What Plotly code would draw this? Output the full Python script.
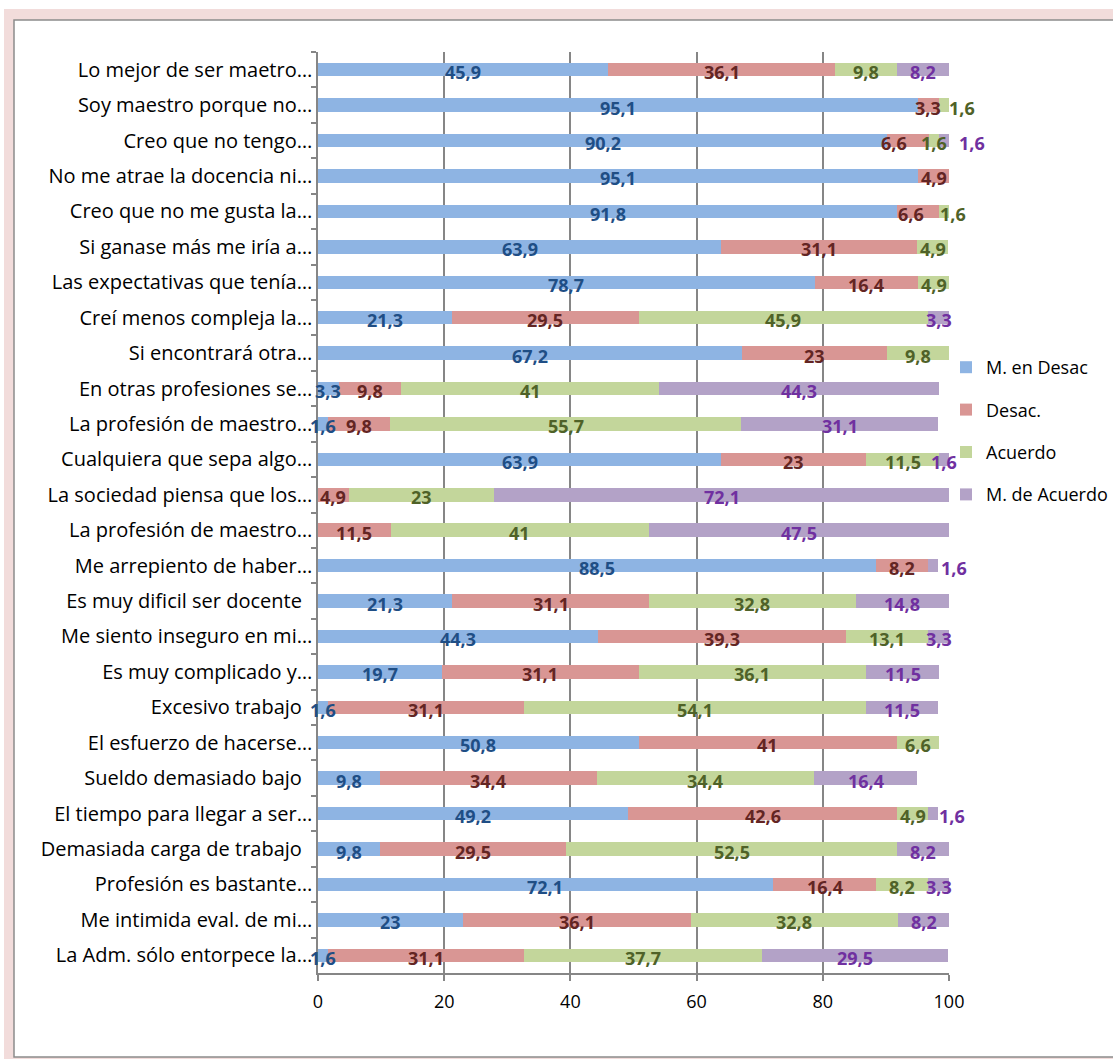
import plotly.graph_objects as go

categories = [
    "Lo mejor de ser maetro…",
    "Soy maestro porque no…",
    "Creo que no tengo…",
    "No me atrae la docencia ni…",
    "Creo que no me gusta la…",
    "Si ganase más me iría a…",
    "Las expectativas que tenía…",
    "Creí menos compleja la…",
    "Si encontrará otra…",
    "En otras profesiones se…",
    "La profesión de maestro…",
    "Cualquiera que sepa algo…",
    "La sociedad piensa que los…",
    "La profesión de maestro…\u200b",
    "Me arrepiento de haber…",
    "Es muy dificil ser docente\u00a0\u00a0",
    "Me siento inseguro en mi…",
    "Es muy complicado y…",
    "Excesivo trabajo\u00a0\u00a0",
    "El esfuerzo de hacerse…",
    "Sueldo demasiado bajo\u00a0\u00a0",
    "El tiempo para llegar a ser…",
    "Demasiada carga de trabajo\u00a0\u00a0",
    "Profesión es bastante…",
    "Me intimida eval. de mi…",
    "La Adm. sólo entorpece la…",
]

m_desac = [45.9, 95.1, 90.2, 95.1, 91.8, 63.9, 78.7, 21.3, 67.2, 3.3, 1.6, 63.9, 0, 0, 88.5,
           21.3, 44.3, 19.7, 1.6, 50.8, 9.8, 49.2, 9.8, 72.1, 23, 1.6]
desac = [36.1, 3.3, 6.6, 4.9, 6.6, 31.1, 16.4, 29.5, 23, 9.8, 9.8, 23, 4.9, 11.5, 8.2,
         31.1, 39.3, 31.1, 31.1, 41, 34.4, 42.6, 29.5, 16.4, 36.1, 31.1]
acuerdo = [9.8, 1.6, 1.6, 0, 1.6, 4.9, 4.9, 45.9, 9.8, 41, 55.7, 11.5, 23, 41, 0,
           32.8, 13.1, 36.1, 54.1, 6.6, 34.4, 4.9, 52.5, 8.2, 32.8, 37.7]
m_acuerdo = [8.2, 0, 1.6, 0, 0, 0, 0, 3.3, 0, 44.3, 31.1, 1.6, 72.1, 47.5, 1.6,
             14.8, 3.3, 11.5, 11.5, 0, 16.4, 1.6, 8.2, 3.3, 8.2, 29.5]

series_names = ["M. en Desac", "Desac.", "Acuerdo", "M. de Acuerdo"]
series_values = [m_desac, desac, acuerdo, m_acuerdo]
bar_colors = ["#8EB4E3", "#D99694", "#C3D69B", "#B3A2C7"]
label_colors = ["#1F4E85", "#632523", "#4F6228", "#7030A0"]

x_ticks = [0, 20, 40, 60, 80, 100]

# label nudges (pixels) for crowded labels, like the reference: (row, series) -> dx
label_nudges = {(1, 2): 18, (2, 1): -14, (2, 3): 28, (4, 1): -7, (4, 2): 9,
                (14, 3): 21, (21, 3): 19}

W, H = 1113, 1059
L, R, T, B = 318, 949, 52, 973

FONT = "Open Sans"


def px_x(p):
    return (p - L) / (R - L)


def px_y(p):
    return (B - p) / (B - T)


def fmt(v):
    return f"{v:g}".replace(".", ",")


fig = go.Figure()
for name, vals, bc in zip(series_names, series_values, bar_colors):
    fig.add_trace(go.Bar(
        y=categories,
        x=vals,
        name=name,
        orientation="h",
        marker=dict(color=bc, line=dict(width=0)),
        legendgroup=name,
        hoverinfo="x+y+name",
    ))

# data labels drawn above all bars, centred on each segment
annotations = []
cum = [0.0] * len(categories)
for s, (vals, lc) in enumerate(zip(series_values, label_colors)):
    for i, v in enumerate(vals):
        if v:
            annotations.append(dict(
                x=cum[i] + v / 2, y=categories[i], xref="x", yref="y",
                text=fmt(v), showarrow=False,
                xshift=label_nudges.get((i, s), 0), yshift=-2.5,
                font=dict(family=FONT, size=18, color=lc, weight="bold"),
            ))
        cum[i] += v

fig.update_layout(
    width=W, height=H,
    barmode="stack",
    bargap=0.62,
    margin=dict(l=L, r=W - R, t=T, b=H - B, pad=0, autoexpand=False),
    paper_bgcolor="white",
    plot_bgcolor="rgba(0,0,0,0)",
    font=dict(family=FONT, size=18, color="#000000"),
    showlegend=True,
    legend=dict(
        x=px_x(946), y=px_y(349), xanchor="left", yanchor="top",
        traceorder="grouped", tracegroupgap=16,
        font=dict(family=FONT, size=18, color="#000000"),
        itemwidth=30, bgcolor="rgba(0,0,0,0)",
    ),
    annotations=annotations,
    xaxis=dict(
        range=[0, 100], tickvals=x_ticks, ticktext=[str(t) for t in x_ticks],
        showgrid=True, gridcolor="#868686", gridwidth=1.5,
        showline=True, linecolor="#868686", linewidth=1.5,
        ticks="outside", ticklen=6, tickcolor="#868686", tickwidth=1.5,
        ticklabelstandoff=6, automargin=False,
        zeroline=False, fixedrange=True,
        tickfont=dict(family=FONT, size=18, color="#000000"),
    ),
    yaxis=dict(
        type="category", categoryorder="array", categoryarray=categories,
        autorange="reversed", automargin=False,
        showline=True, linecolor="#868686", linewidth=1.5,
        ticks="outside", ticklen=5, tickcolor="#868686", tickwidth=1.5,
        tickson="boundaries", showgrid=False,
        tickfont=dict(family=FONT, size=20, color="#000000"),
        fixedrange=True,
    ),
    shapes=[
        dict(type="rect", xref="paper", yref="paper", layer="below",
             x0=px_x(4), x1=px_x(1120), y0=px_y(9), y1=px_y(1070),
             fillcolor="#F2DCDB", line=dict(width=0)),
        dict(type="rect", xref="paper", yref="paper", layer="below",
             x0=px_x(14), x1=px_x(1125), y0=px_y(20), y1=px_y(1057),
             fillcolor="white", line=dict(color="#8C8C8C", width=1.5)),
    ],
)

fig.write_html(
    "out.html",
    config={"displayModeBar": False},
    post_script="document.body.style.margin='0';document.body.style.overflow='hidden';",
)
